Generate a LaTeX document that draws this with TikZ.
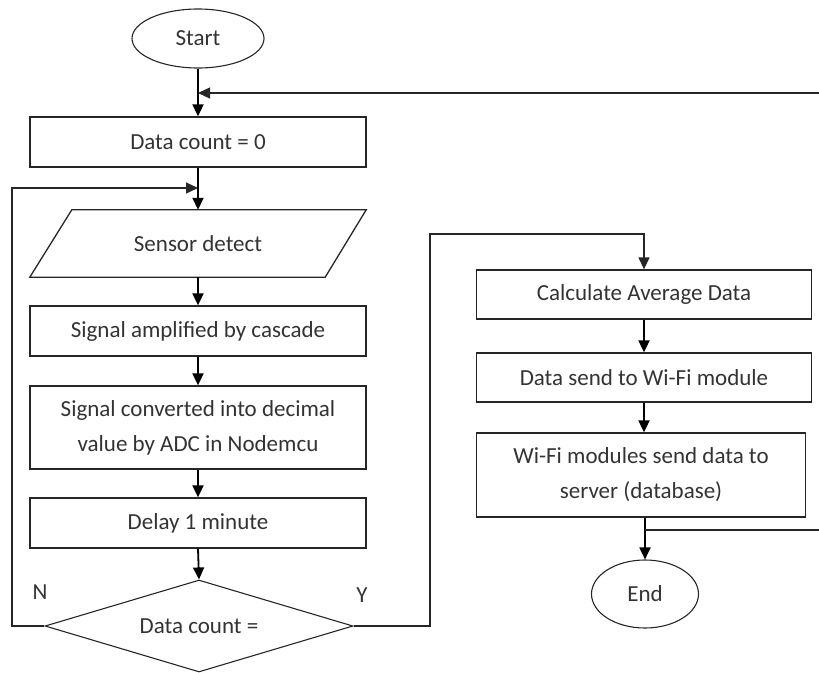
\documentclass[tikz,border=0pt]{standalone}
\usepackage{fontspec}
\setmainfont{Carlito}
\usetikzlibrary{shapes.geometric,arrows.meta}

\begin{document}
\begin{tikzpicture}[x=1pt,y=-1pt,
  every node/.style={font=\fontsize{23}{35}\selectfont, text=black!80},
  procbox/.style={draw=black!85, line width=1.3pt, rectangle, inner sep=0pt, align=center},
  termbox/.style={draw=black!85, line width=1.1pt, ellipse, inner sep=0pt},
  flow/.style={draw=black, line width=1.8pt, -{Triangle[length=12pt,width=11pt]}},
  plainline/.style={draw=black!85, line width=1.3pt}
]
\useasboundingbox (0,0) rectangle (819,672);
\clip (0,0) rectangle (819,672);

% left column
\node[termbox, minimum width=132, minimum height=59] (start) at (198,38.5) {Start};
\node[procbox, minimum width=336, minimum height=50] (dc0) at (198,142) {Data count = 0};
\node[minimum width=336, minimum height=67, inner sep=0pt] (sensor) at (198,243.5) {Sensor detect};
\draw[black!85, line width=1.3pt] ([xshift=42pt]sensor.north west) -- (sensor.north east)
  -- ([xshift=-41pt]sensor.south east) -- (sensor.south west) -- cycle;
\node[procbox, minimum width=336, minimum height=50] (amp) at (198,331) {Signal amplified by cascade};
\node[procbox, minimum width=336, minimum height=83] (adc) at (198,427.5)
  {Signal converted into decimal\\value by ADC in Nodemcu};
\node[procbox, minimum width=336, minimum height=50] (delay) at (198,523) {Delay 1 minute};
\node[draw=black!85, line width=1.1pt, diamond, aspect=3.35, inner sep=0pt,
      minimum width=308, minimum height=92] (dec) at (199,626) {Data count =};
\node (nlab) at (40,592) {N};
\node (ylab) at (362,595) {Y};

% right column
\node[procbox, minimum width=335, minimum height=49] (avg) at (644,294.5) {Calculate Average Data};
\node[procbox, minimum width=335, minimum height=49] (send) at (644,377.5) {Data send to Wi-Fi module};
\node[procbox, minimum width=329, minimum height=84] (wifi) at (641,475)
  {Wi-Fi modules send data to\\server (database)};
\node[termbox, minimum width=107, minimum height=68] (end) at (645,594) {End};

% junction points on the vertical flow
\coordinate (fb) at (198,93);
\coordinate (lp) at (198,188);
\coordinate (jy) at (645,530);

% main flow
\draw[flow] (start.south) -- (dc0.north);
\draw[flow] (dc0.south) -- (sensor.north);
\draw[flow] (sensor.south) -- (amp.north);
\draw[flow] (amp.south) -- (adc.north);
\draw[flow] (adc.south) -- (delay.north);
\draw[flow] (delay.south) -- (dec.north);

% N: back to sensor
\draw[plainline, -{Triangle[length=12pt,width=11pt]}] (dec.west) -- (12,626) -- (12,188) -- (lp);

% Y: to the average calculation
\draw[plainline, -{Triangle[length=12pt,width=11pt]}] (dec.east) -- (430,626) -- (430,234)
  -- (avg.north |- 0,234) -- (avg.north);

\draw[flow] (avg.south) -- (send.north);
\draw[flow] (send.south) -- (send.south |- wifi.north);
\draw[flow] (wifi.south -| end.north) -- (end.north);

% repeat: back to data count reset
\draw[plainline, -{Triangle[length=12pt,width=11pt]}] (jy) -- (840,530) -- (840,93) -- (fb);
\end{tikzpicture}
\end{document}
